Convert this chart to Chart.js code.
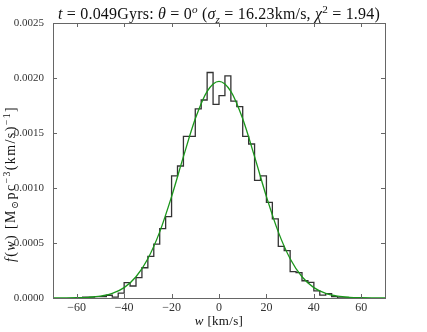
<!DOCTYPE html>
<html>
<head>
<meta charset="utf-8">
<script src="https://cdn.jsdelivr.net/npm/chart.js@4"></script>
<style>
  html, body { margin: 0; padding: 0; background: #fff; }
  #wrap { width: 427px; height: 332px; }
</style>
</head>
<body>
<div id="wrap"><canvas id="fw"></canvas></div>
<script>
// histogram bins of w (km/s), width 2.5
const binEdges = [-60,-57.5,-55,-52.5,-50,-47.5,-45,-42.5,-40,-37.5,-35,-32.5,-30,-27.5,-25,-22.5,
  -20,-17.5,-15,-12.5,-10,-7.5,-5,-2.5,0,2.5,5,7.5,10,12.5,15,17.5,20,22.5,25,27.5,30,32.5,35,37.5,
  40,42.5,45,47.5,50,52.5,55,57.5,60];
const binVals = [0,0.000008,0.000008,0.000012,0.000012,0.000025,0.000008,0.000045,0.000139,0.000109,
  0.000185,0.000275,0.000378,0.00049,0.00063,0.00074,0.00111,0.0012,0.00147,0.00147,0.00172,0.0018,
  0.00205,0.00176,0.00184,0.00202,0.00179,0.00174,0.00147,0.0014,0.00107,0.00111,0.00087,0.00072,
  0.00047,0.00043,0.00024,0.00023,0.000157,0.000142,0.000064,0.000026,0.00004,0.000012,0,0,0,0];

// gaussian fit
const fitW = [-70,-65,-60,-55,-50,-45,-40,-35,-30,-25,-20,-15,-10,-5,0,5,10,15,20,25,30,35,40,45,50,55,60,65,70];
const fitF = [0.0000002,0.0000006,0.0000021,0.0000063,0.0000171,0.0000422,0.0000945,0.000193,0.000357,
  0.000601,0.000922,0.001285,0.001629,0.001879,0.00197,0.001879,0.001629,0.001285,0.000922,0.000601,
  0.000357,0.000193,0.0000945,0.0000422,0.0000171,0.0000063,0.0000021,0.0000006,0.0000002];

const xTicks = [-60,-40,-20,0,20,40,60];
const yTicks = [0,0.0005,0.001,0.0015,0.002,0.0025];

const serif = '"Liberation Serif", "DejaVu Serif", serif';

const histPts = [{x: binEdges[0], y: 0}];
binVals.forEach((v, i) => histPts.push({x: binEdges[i], y: v}));
histPts.push({x: binEdges[binEdges.length - 1], y: 0});

const fitPts = fitW.map((w, i) => ({x: w, y: fitF[i]}));

function partFont(p, size) {
  const s = (p.sub || p.sup) ? size * 0.7 : size;
  return (p.it ? 'italic ' : '') + s + 'px ' + serif;
}
// text with italics / sub / sup, drawn char by char with extra spacing
function drawRich(ctx, parts, x, y, size, sp) {
  let w = 0;
  parts.forEach(p => {
    ctx.font = partFont(p, size);
    for (const ch of p.t) w += ctx.measureText(ch).width + sp;
  });
  let cx = x - w / 2;
  ctx.textAlign = 'left';
  ctx.textBaseline = 'alphabetic';
  parts.forEach(p => {
    ctx.font = partFont(p, size);
    const dy = p.sub ? size * 0.22 : p.sup ? -size * 0.38 : 0;
    for (const ch of p.t) {
      ctx.fillText(ch, cx, y + dy);
      cx += ctx.measureText(ch).width + sp;
    }
  });
}

const titleParts = [
  {t: 't', it: 1}, {t: ' = 0.049Gyrs: '}, {t: 'θ', it: 1}, {t: ' = 0'}, {t: 'o', it: 1, sup: 1},
  {t: ' ('}, {t: 'σ', it: 1}, {t: 'z', it: 1, sub: 1}, {t: ' = 16.23km/s, '},
  {t: 'χ', it: 1}, {t: '2', sup: 1}, {t: ' = 1.94)'}
];
const yLabelParts = [
  {t: 'f', it: 1}, {t: '('}, {t: 'w', it: 1}, {t: ') [M'}, {t: '⊙', sub: 1}, {t: 'pc'},
  {t: '−3', sup: 1}, {t: '(km/s)'}, {t: '−1', sup: 1}, {t: ']'}
];
const xLabelParts = [{t: 'w', it: 1}, {t: ' [km/s]'}];

// frame, inward ticks and rich-text labels
const decor = {
  id: 'decor',
  afterDraw(chart) {
    const {ctx, chartArea: a, scales} = chart;
    ctx.save();
    ctx.strokeStyle = '#666';
    ctx.lineWidth = 1;
    ctx.strokeRect(a.left + 0.5, a.top + 0.5, a.right - a.left, a.bottom - a.top);
    ctx.beginPath();
    xTicks.forEach(v => {
      const px = Math.round(scales.x.getPixelForValue(v)) + 0.5;
      ctx.moveTo(px, a.bottom); ctx.lineTo(px, a.bottom - 4);
      ctx.moveTo(px, a.top); ctx.lineTo(px, a.top + 4);
    });
    yTicks.forEach(v => {
      const py = Math.round(scales.y.getPixelForValue(v)) + 0.5;
      ctx.moveTo(a.left, py); ctx.lineTo(a.left + 4, py);
      ctx.moveTo(a.right, py); ctx.lineTo(a.right - 4, py);
    });
    ctx.stroke();

    ctx.fillStyle = '#111';
    drawRich(ctx, titleParts, (a.left + a.right) / 2, 19, 16, 0.2);
    drawRich(ctx, xLabelParts, (a.left + a.right) / 2, 325, 13, 0.3);
    ctx.translate(15, 184);
    ctx.rotate(-Math.PI / 2);
    drawRich(ctx, yLabelParts, 0, 0, 14, 1.4);
    ctx.restore();
  }
};

new Chart(document.getElementById('fw'), {
  type: 'line',
  data: {
    datasets: [{
      label: 'fit',
      data: fitPts,
      borderColor: '#1a961a',
      borderWidth: 1.3,
      pointRadius: 0,
      cubicInterpolationMode: 'monotone',
      order: 0
    }, {
      label: 'f(w)',
      data: histPts,
      borderColor: '#333',
      borderWidth: 1.3,
      pointRadius: 0,
      stepped: true,
      order: 1
    }]
  },
  options: {
    animation: false,
    responsive: true,
    maintainAspectRatio: false,
    layout: {padding: {top: 23, right: 42, left: 0, bottom: 0}},
    plugins: {legend: {display: false}, tooltip: {enabled: false}},
    scales: {
      x: {
        type: 'linear',
        min: -70, max: 70,
        afterBuildTicks: s => { s.ticks = xTicks.map(v => ({value: v})); },
        afterFit: s => { s.height = 34; },
        grid: {display: false, drawTicks: false},
        border: {display: false},
        ticks: {
          padding: 3,
          color: '#333',
          font: {family: serif, size: 12},
          callback: v => (v < 0 ? '−' + Math.abs(v) : '' + v)
        }
      },
      y: {
        min: 0, max: 0.0025,
        afterBuildTicks: s => { s.ticks = yTicks.map(v => ({value: v})); },
        afterFit: s => { s.width = 53; },
        grid: {display: false, drawTicks: false},
        border: {display: false},
        ticks: {
          padding: 9,
          color: '#333',
          font: {family: serif, size: 11},
          callback: v => v.toFixed(4)
        }
      }
    }
  },
  plugins: [decor]
});
</script>
</body>
</html>
